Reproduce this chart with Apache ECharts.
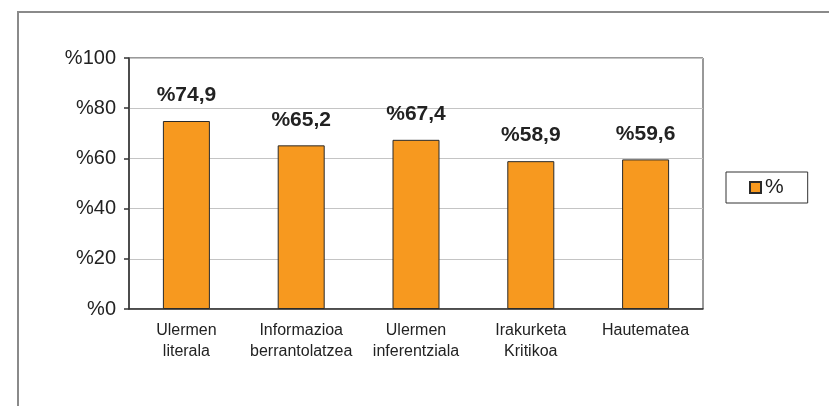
<!DOCTYPE html>
<html>
<head>
<meta charset="utf-8">
<script src="https://cdn.jsdelivr.net/npm/echarts@6/dist/echarts.min.js"></script>
<style>
    html, body {margin:0; padding:0; background:#fff;}
    #echart {width:829px; height:406px;}
</style>
</head>
<body>
<div id="echart"></div>
<script>
/** x 轴类别 */
var categories = ['Ulermen\nliterala', 'Informazioa\nberrantolatzea', 'Ulermen\ninferentziala', 'Irakurketa\nKritikoa', 'Hautematea'];
/** 柱子数据 */
var values = [74.9, 65.2, 67.4, 58.9, 59.6];
/** y 轴刻度 */
var yTicks = [0, 20, 40, 60, 80, 100];
var seriesName = '%';

var fontFam = '"Liberation Sans", Arial, sans-serif';

var myChart = echarts.init(document.getElementById('echart'));

var option = {
    animation: false,
    backgroundColor: '#fff',
    // 外框
    graphic: [{
        type: 'rect',
        shape: {x: 18, y: 12, width: 900, height: 500},
        style: {fill: 'none', stroke: '#8a8a8a', lineWidth: 2},
        silent: true
    }],
    grid: {
        left: 129, top: 58, right: 126, bottom: 97,
        show: true,
        borderColor: '#333',
        borderWidth: 1
    },
    legend: {
        data: [seriesName],
        left: 726, top: 172,
        orient: 'vertical',
        icon: 'rect',
        itemWidth: 11, itemHeight: 11,
        itemGap: 0,
        padding: [5, 24, 5, 23],
        borderColor: '#333',
        borderWidth: 1,
        textStyle: {fontFamily: fontFam, fontSize: 21, color: '#222', padding: [0, 0, 0, -1]}
    },
    xAxis: {
        type: 'category',
        data: categories,
        axisLine: {lineStyle: {color: '#333', width: 1.5}},
        axisTick: {length: 5, lineStyle: {color: '#333', width: 1.5}},
        axisLabel: {
            fontFamily: fontFam, fontSize: 16, color: '#222',
            lineHeight: 21, margin: 11, interval: 0
        }
    },
    yAxis: {
        type: 'value',
        min: yTicks[0],
        max: yTicks[yTicks.length - 1],
        interval: yTicks[1] - yTicks[0],
        axisLine: {show: true, lineStyle: {color: '#333', width: 1.5}},
        axisTick: {show: true, length: 5, lineStyle: {color: '#333', width: 1.5}},
        splitLine: {lineStyle: {color: '#c4c4c4', width: 1}},
        axisLabel: {
            fontFamily: fontFam, fontSize: 20, color: '#222', margin: 13,
            formatter: function (v) { return '%' + v; }
        }
    },
    series: [{
        name: seriesName,
        type: 'bar',
        data: values,
        barWidth: 47,
        itemStyle: {color: '#F7991F', borderColor: '#2a2a2a', borderWidth: 1},
        label: {
            show: true,
            position: 'top',
            distance: 15,
            fontFamily: fontFam, fontSize: 21, fontWeight: 'bold', color: '#222',
            formatter: function (p) { return '%' + String(p.value).replace('.', ','); }
        }
    }]
};

myChart.setOption(option);
</script>
</body>
</html>
